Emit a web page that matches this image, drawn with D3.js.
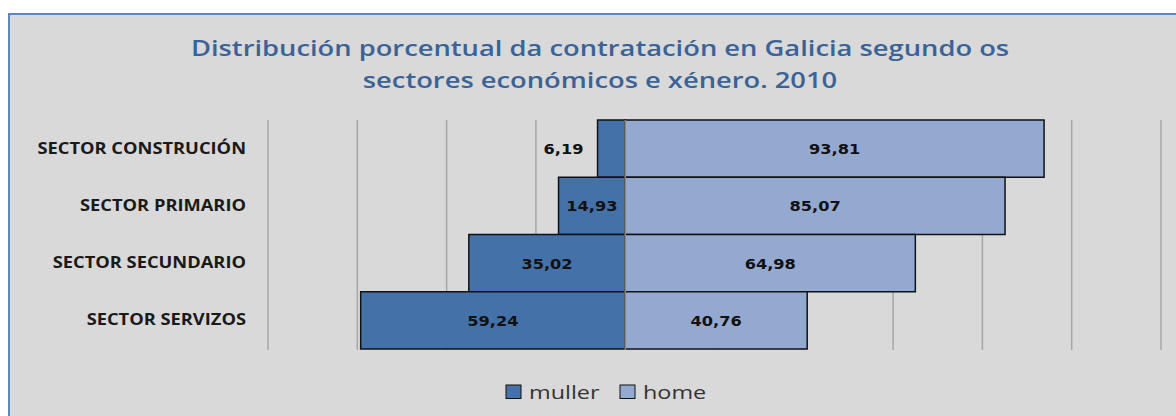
<!DOCTYPE html>
<html>
<head>
<meta charset="utf-8">
<script src="https://cdn.jsdelivr.net/npm/d3@7"></script>
<style>
  html, body { margin: 0; padding: 0; background: #fff; }
  svg { display: block; }
</style>
</head>
<body>
<div id="chart"></div>
<script>
// Data
var categories = ["SECTOR CONSTRUCIÓN", "SECTOR PRIMARIO", "SECTOR SECUNDARIO", "SECTOR SERVIZOS"];
var muller = [6.19, 14.93, 35.02, 59.24];
var home = [93.81, 85.07, 64.98, 40.76];
var gridTicks = [-80, -60, -40, -20, 0, 20, 40, 60, 80, 100, 120];
var titleLines = ["Distribución porcentual da contratación en Galicia segundo os", "sectores económicos e xénero. 2010"];
var seriesNames = ["muller", "home"];

var W = 1176, H = 416;
var colMuller = "#4471a8", colHome = "#94a9d0";

var fmt = function(v) { return v.toFixed(2).replace(".", ","); };

var svg = d3.select("#chart").append("svg")
    .attr("width", W)
    .attr("height", H);

// Background panel with blue frame
svg.append("rect")
    .attr("x", 9).attr("y", 14)
    .attr("width", W + 10).attr("height", H + 10)
    .attr("fill", "#d9d9d9")
    .attr("stroke", "#5b86c0")
    .attr("stroke-width", 2);

// Scales
var x = d3.scaleLinear().domain([-80, 120]).range([268, 1161]);
var y = d3.scaleBand().domain(categories).range([120, 349]).padding(0);

// Title (text in the picture is drawn wide, so stretch it a bit)
svg.selectAll("text.title").data(titleLines).enter()
  .append("text")
    .attr("class", "title")
    .attr("text-anchor", "middle")
    .attr("transform", function(d, i) { return "translate(600," + (55.5 + i * 32) + ") scale(1.22,1)"; })
    .style("font-family", "'Open Sans', sans-serif")
    .style("font-size", "22.4px")
    .style("font-weight", "600")
    .style("fill", "#3b6397")
    .text(function(d) { return d; });

// Vertical gridlines
svg.selectAll("line.grid").data(gridTicks).enter()
  .append("line")
    .attr("class", "grid")
    .attr("x1", function(d) { return x(d); })
    .attr("x2", function(d) { return x(d); })
    .attr("y1", 120)
    .attr("y2", 350)
    .attr("stroke", "#a6a6a6")
    .attr("stroke-width", 1.5);

// Bars: muller to the left, home to the right
svg.selectAll("rect.muller").data(muller).enter()
  .append("rect")
    .attr("class", "muller")
    .attr("x", function(d) { return x(-d); })
    .attr("y", function(d, i) { return y(categories[i]); })
    .attr("width", function(d) { return x(0) - x(-d); })
    .attr("height", y.bandwidth())
    .attr("fill", colMuller)
    .attr("stroke", "#111")
    .attr("stroke-width", 1.5);

svg.selectAll("rect.home").data(home).enter()
  .append("rect")
    .attr("class", "home")
    .attr("x", x(0))
    .attr("y", function(d, i) { return y(categories[i]); })
    .attr("width", function(d) { return x(d) - x(0); })
    .attr("height", y.bandwidth())
    .attr("fill", colHome)
    .attr("stroke", "#111")
    .attr("stroke-width", 1.5);

// zero axis line on top
svg.append("line")
    .attr("x1", x(0)).attr("x2", x(0))
    .attr("y1", 120).attr("y2", 350)
    .attr("stroke", "#8c8c8c")
    .attr("stroke-width", 1.5);

// Value labels
function labelText(sel, xFn) {
  sel.attr("text-anchor", "middle")
     .attr("transform", function(d, i) {
        return "translate(" + xFn(d) + "," + (y(categories[i]) + y.bandwidth() / 2 + 5.5) + ") scale(1.2,1)";
     })
     .style("font-family", "'DejaVu Sans', Verdana, sans-serif")
     .style("font-size", "13.5px")
     .style("font-weight", "bold")
     .style("fill", "#111")
     .text(fmt);
}

svg.selectAll("text.lm").data(muller).enter()
  .append("text")
    .attr("class", "lm")
    .call(labelText, function(d) {
        var w = x(0) - x(-d);
        // narrow bar: label sits outside, to the left
        return w < 50 ? x(-d) - 34 : (x(-d) + x(0)) / 2;
    });

svg.selectAll("text.lh").data(home).enter()
  .append("text")
    .attr("class", "lh")
    .call(labelText, function(d) { return (x(0) + x(d)) / 2; });

// Category labels
svg.selectAll("text.cat").data(categories).enter()
  .append("text")
    .attr("class", "cat")
    .attr("text-anchor", "end")
    .attr("transform", function(d) { return "translate(246," + (y(d) + y.bandwidth() / 2 + 5) + ") scale(1.18,1)"; })
    .style("font-family", "'Open Sans', sans-serif")
    .style("font-size", "15.5px")
    .style("font-weight", "bold")
    .style("fill", "#1a1a1a")
    .text(function(d) { return d; });

// Legend
var legend = svg.append("g").attr("transform", "translate(506,385)");
var legX = [0, 114];
var items = legend.selectAll("g.item").data(seriesNames).enter()
  .append("g")
    .attr("class", "item")
    .attr("transform", function(d, i) { return "translate(" + legX[i] + ",0)"; });
items.append("rect")
    .attr("width", 15).attr("height", 13.5)
    .attr("fill", function(d, i) { return i === 0 ? colMuller : colHome; })
    .attr("stroke", "#111")
    .attr("stroke-width", 1);
items.append("text")
    .attr("transform", "translate(23,13.5) scale(1.3,1)")
    .style("font-family", "'Open Sans', sans-serif")
    .style("font-size", "18px")
    .style("fill", "#333")
    .text(function(d) { return d; });
</script>
</body>
</html>
